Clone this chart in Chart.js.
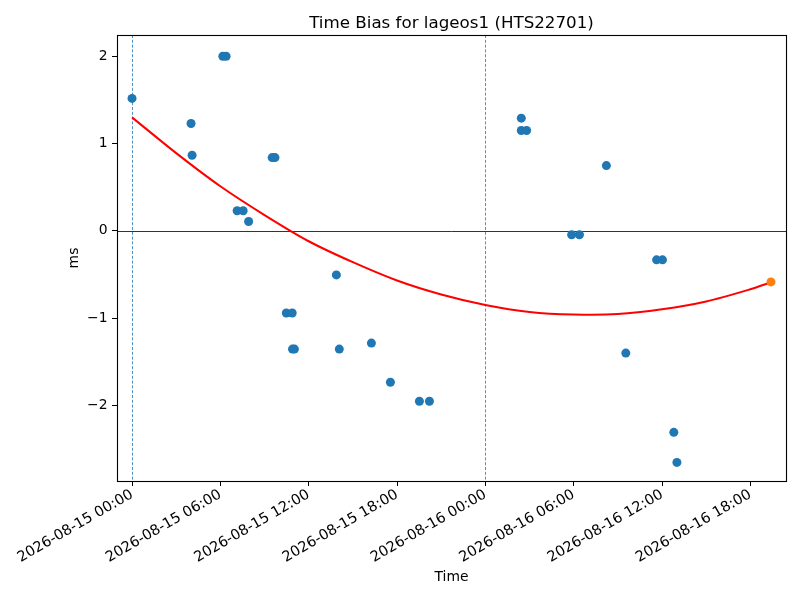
<!DOCTYPE html>
<html>
<head>
<meta charset="utf-8">
<script src="https://cdn.jsdelivr.net/npm/chart.js@4/dist/chart.umd.min.js"></script>
<style>
  html, body { margin: 0; padding: 0; background: #fff; }
  #timeBias { display: block; }
</style>
</head>
<body>
<canvas id="timeBias" width="800" height="600"></canvas>
<script>
// hours after 2026-08-15 00:00
const obsHours = [0.00, 4.01, 4.08, 6.17, 6.39, 7.14, 7.55, 7.92, 9.52, 9.71,
  10.48, 10.88, 10.90, 11.03, 13.88, 14.08, 16.26, 17.55, 19.52, 20.20,
  26.44, 26.44, 26.80, 29.86, 30.39, 32.22, 33.54, 35.63, 36.03, 36.80, 37.01];
const obsBias = [1.517, 1.230, 0.866, 2.000, 2.000, 0.230, 0.230, 0.107, 0.839, 0.839,
  -0.943, -0.943, -1.356, -1.356, -0.506, -1.356, -1.287, -1.736, -1.954, -1.954,
  1.291, 1.149, 1.149, -0.046, -0.046, 0.747, -1.402, -0.333, -0.333, -2.310, -2.655];

const fitHours = [0, 3, 6, 9, 12, 15, 18, 21, 24, 27, 30, 33, 36, 39, 42, 43.4];
const fitBias = [1.30, 0.89, 0.51, 0.18, -0.12, -0.36, -0.57, -0.73, -0.85, -0.93,
  -0.96, -0.955, -0.90, -0.81, -0.67, -0.59];

const predHours = [43.40];
const predBias = [-0.586];

const dayMarkers = [0, 24];
const xTicks = [0, 6, 12, 18, 24, 30, 36, 42];
const yTicks = [-2, -1, 0, 1, 2];
const startDay = "2026-08-";
const startDate = 15;

const titleText = "Time Bias for lageos1 (HTS22701)";

Chart.defaults.font.family = "'DejaVu Sans', sans-serif";
Chart.defaults.font.size = 13.9;
Chart.defaults.color = "#000";

let toPoints = (xs, ys) => xs.map((x, i) => ({ x: x, y: ys[i] }));

let hourLabel = (h) => {
  let day = startDate + Math.floor(h / 24);
  let hh = String(h % 24).padStart(2, "0");
  return startDay + day + " " + hh + ":00";
};

const framePlugin = {
  id: "frame",
  beforeDatasetsDraw(chart) {
    let ctx = chart.ctx;
    let x = chart.scales.x;
    let y = chart.scales.y;
    let area = chart.chartArea;
    ctx.save();
    ctx.lineWidth = 0.8;
    ctx.strokeStyle = "#1f77b4";
    ctx.setLineDash([3, 1.8]);
    dayMarkers.forEach((h) => {
      let px = Math.round(x.getPixelForValue(h)) + 0.5;
      ctx.beginPath();
      ctx.moveTo(px, area.top);
      ctx.lineTo(px, area.bottom);
      ctx.stroke();
    });
    ctx.setLineDash([]);
    ctx.strokeStyle = "#000";
    let py = Math.round(y.getPixelForValue(0)) + 0.5;
    ctx.beginPath();
    ctx.moveTo(area.left, py);
    ctx.lineTo(area.right, py);
    ctx.stroke();
    ctx.restore();
  },
  afterDraw(chart) {
    let ctx = chart.ctx;
    let area = chart.chartArea;
    ctx.save();
    ctx.lineWidth = 1.1;
    ctx.strokeStyle = "#000";
    ctx.strokeRect(area.left + 0.5, area.top + 0.5, area.right - area.left, area.bottom - area.top);
    ctx.fillStyle = "#000";
    ctx.font = "16.7px 'DejaVu Sans', sans-serif";
    ctx.textAlign = "center";
    ctx.textBaseline = "alphabetic";
    ctx.fillText(titleText, (area.left + area.right) / 2, 28);
    ctx.restore();
  },
};

new Chart(document.getElementById("timeBias").getContext("2d"), {
  type: "scatter",
  data: {
    datasets: [
      {
        label: "prediction",
        data: toPoints(predHours, predBias),
        backgroundColor: "#ff7f0e",
        borderWidth: 0,
        pointRadius: 4.5,
      },
      {
        label: "fit",
        data: toPoints(fitHours, fitBias),
        showLine: true,
        borderColor: "#ff0000",
        borderWidth: 2,
        pointRadius: 0,
        tension: 0.3,
      },
      {
        label: "time bias",
        data: toPoints(obsHours, obsBias),
        backgroundColor: "#1f77b4",
        borderWidth: 0,
        pointRadius: 4.5,
      },
    ],
  },
  options: {
    responsive: false,
    animation: false,
    devicePixelRatio: 1,
    events: [],
    layout: { padding: { top: 35, right: 14, left: 0, bottom: 0 } },
    plugins: {
      legend: { display: false },
      tooltip: { enabled: false },
    },
    scales: {
      x: {
        type: "linear",
        min: -1.02,
        max: 44.42,
        afterFit: (scale) => { scale.height = 119; },
        afterBuildTicks: (scale) => { scale.ticks = xTicks.map((v) => ({ value: v })); },
        border: { display: false },
        grid: { drawOnChartArea: false, drawTicks: true, tickLength: 5, color: "#000" },
        ticks: {
          autoSkip: false,
          minRotation: 30,
          maxRotation: 30,
          padding: 0,
          font: { size: 14.5 },
          callback: (v) => hourLabel(v),
        },
        title: { display: true, text: "Time", padding: { top: 0, bottom: 14.6 } },
      },
      y: {
        min: -2.868,
        max: 2.244,
        afterFit: (scale) => { scale.width = 117; },
        afterBuildTicks: (scale) => { scale.ticks = yTicks.map((v) => ({ value: v })); },
        border: { display: false },
        grid: { drawOnChartArea: false, drawTicks: true, tickLength: 5, color: "#000" },
        ticks: {
          padding: 4.5,
          callback: (v) => String(v).replace("-", "\u2212"),
        },
        title: { display: true, text: "ms", padding: { top: 66, bottom: 0 } },
      },
    },
  },
  plugins: [framePlugin],
});
</script>
</body>
</html>
